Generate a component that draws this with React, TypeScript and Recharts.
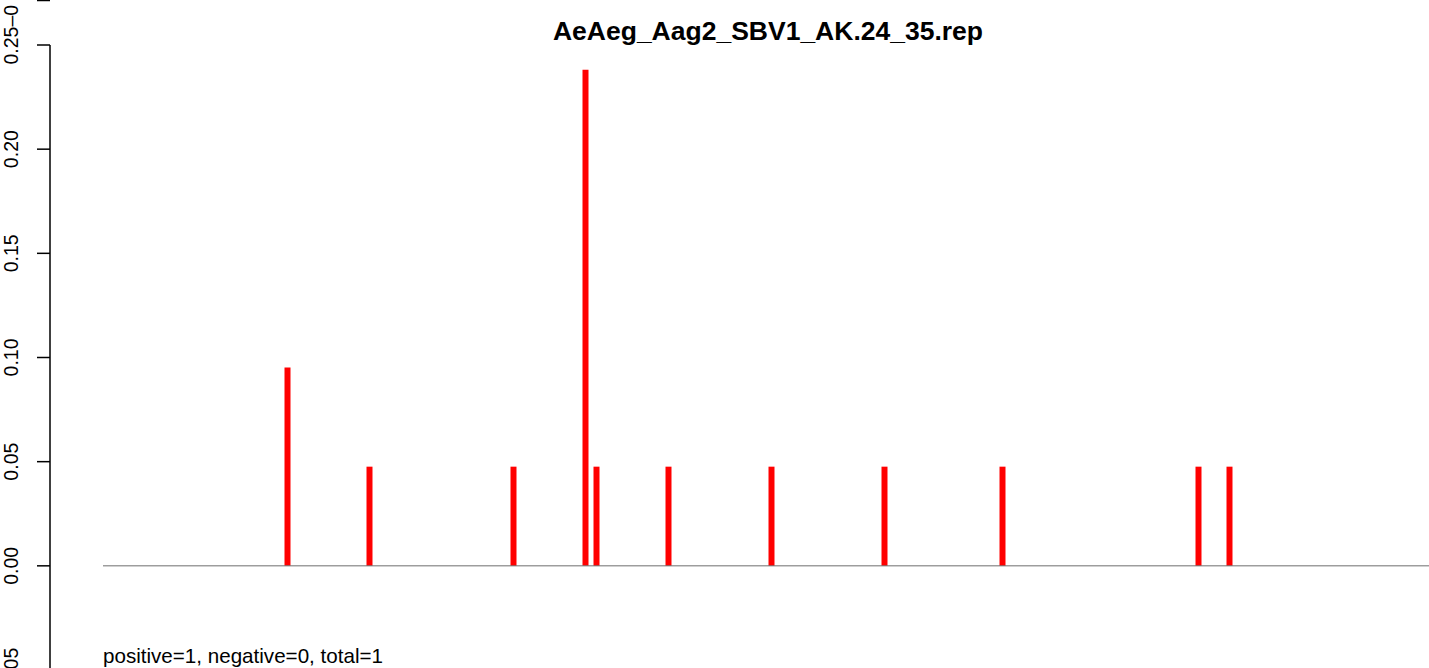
import React from "react";
import { Bar, ComposedChart, ReferenceLine, XAxis, YAxis } from "recharts";

// read-off positions (arbitrary position units) and read frequencies
const positions = [237, 319, 463, 535, 546, 618, 721, 834, 952, 1148, 1179];
const frequencies = [0.0952, 0.0476, 0.0476, 0.2381, 0.0476, 0.0476, 0.0476, 0.0476, 0.0476, 0.0476, 0.0476];
const yTicks = [-0.05, 0, 0.05, 0.1, 0.15, 0.2, 0.25];
const title = "AeAeg_Aag2_SBV1_AK.24_35.rep";
const footnote = "positive=1, negative=0, total=1";

const data = positions.map((pos, i) => ({ pos, value: frequencies[i] }));

const font = "'Liberation Sans', Arial, Helvetica, sans-serif";

function YTick(props: any) {
  const { y, payload } = props;
  const v = payload.value as number;
  const label = v === 0.25 ? "0.25\u20130" : v.toFixed(2);
  const anchor = v === 0.25 ? "start" : "middle";
  const ty = v === 0.25 ? y + 19.5 : y;
  return (
    <text
      x={18}
      y={ty}
      transform={`rotate(-90, 18, ${ty})`}
      textAnchor={anchor}
      fontFamily={font}
      fontSize={19.5}
      fill="#000"
    >
      {label}
    </text>
  );
}

export default function App() {
  return (
    <div style={{ position: "fixed", left: 0, top: 0, width: 1429, height: 668, overflow: "hidden", background: "#fff" }}>
      <ComposedChart width={1429} height={700} data={data} margin={{ top: 45, right: 0, bottom: 30, left: 0 }}>
        <XAxis dataKey="pos" type="number" domain={[0, 1379]} hide />
        <YAxis
          type="number"
          domain={[-0.05, 0.25]}
          ticks={yTicks}
          width={50}
          tickSize={13}
          tick={<YTick />}
          axisLine={{ stroke: "#000", strokeWidth: 1.5 }}
          tickLine={{ stroke: "#000", strokeWidth: 1.5 }}
          interval={0}
        />
        <ReferenceLine
          segment={[
            { x: 53, y: 0 },
            { x: 1379, y: 0 },
          ]}
          stroke="#6e6e6e"
          strokeWidth={1}
        />
        <Bar dataKey="value" fill="#ff0000" barSize={6} isAnimationActive={false} />
      </ComposedChart>
      <div
        style={{
          position: "absolute",
          left: 0,
          width: 1536,
          top: 14,
          textAlign: "center",
          fontFamily: font,
          fontWeight: "bold",
          fontSize: 26.5,
          lineHeight: "34px",
        }}
      >
        {title}
      </div>
      <div
        style={{
          position: "absolute",
          left: 103,
          top: 643,
          fontFamily: font,
          fontSize: 20.6,
          lineHeight: "26px",
          whiteSpace: "nowrap",
        }}
      >
        {footnote}
      </div>
      {/* fragment of tick at the top edge */}
      <svg style={{ position: "absolute", left: 0, top: 0 }} width={60} height={4}>
        <line x1={37} y1={0.5} x2={50} y2={0.5} stroke="#000" strokeWidth={1.5} />
      </svg>
    </div>
  );
}
